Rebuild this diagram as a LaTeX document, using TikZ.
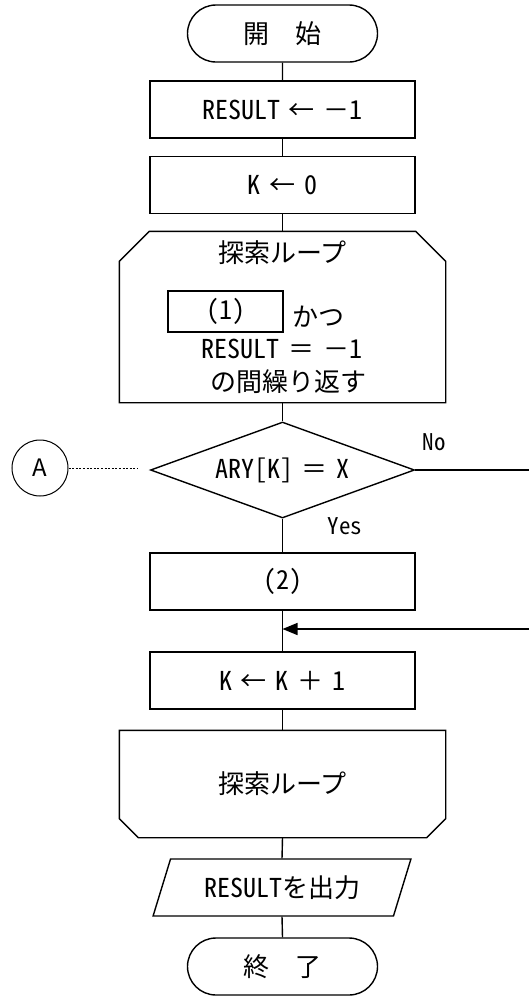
\documentclass[tikz,border=0pt]{standalone}
\usepackage{fontspec}
\setmainfont{Noto Sans CJK JP}
\newfontfamily\hw{Noto Sans CJK JP}[RawFeature=+hwid]
\newcommand\gp{\hspace{9pt}}
\usetikzlibrary{shapes.geometric,shapes.misc,arrows.meta,calc}
\begin{document}
\begin{tikzpicture}[x=1pt,y=-1pt,line width=1.4pt,
  every node/.style={font=\fontsize{26}{30}\selectfont,inner sep=0pt},
  term/.style={draw,rounded rectangle,minimum width=190pt,minimum height=57pt},
  proc/.style={draw,rectangle,minimum width=265pt,minimum height=57pt},
  slot/.style={rectangle,minimum width=325pt},
  lbl/.style={font=\fontsize{23}{27}\selectfont\hw},
  arr/.style={-{Triangle[length=15pt,width=12pt]}},
  dots/.style={line width=1pt,dash pattern=on 2pt off 1.6pt}]
\useasboundingbox (0,0) rectangle (529,996);

% start / init
\node[term] (start) at (282.5,33.5) {開　始};
\node[proc] (init1) at (282.5,109.5) {{\hw RESULT}\gp←\gp－{\hw 1}};
\node[proc] (init2) at (282.5,185) {{\hw K}\gp←\gp{\hw 0}};

% loop start
\node[slot,minimum height=170pt] (ls) at (282.5,317) {};
\draw ($(ls.north west)+(30,0)$) -- ($(ls.north east)+(-30,0)$) -- ($(ls.north east)+(0,30)$)
  -- (ls.south east) -- (ls.south west) -- ($(ls.north west)+(0,30)$) -- cycle;
\node (lstitle) at (282.5,253) {探索ループ};
\node[draw,rectangle,line width=1.3pt,minimum width=115pt,minimum height=41pt] (c1) at (225.5,311.5) {\hw (1)};
\node (katsu) at (318,317) {かつ};
\node (cond) at (282,349) {{\hw RESULT}\gp＝\gp－{\hw 1}};
\node (rep) at (288,382) {の間繰り返す};

% decision
\node[draw,diamond,minimum width=264pt,minimum height=96pt,aspect=2.75] (dia) at (282.5,470) {{\hw ARY[K]}\gp＝\gp{\hw X}};
\node[draw,circle,line width=1pt,minimum size=56pt,font=\fontsize{24}{28}\selectfont] (A) at (40,468) {A};
\coordinate (dotend) at (138,468);
\draw[dots] (A.east) -- (dotend);
\node[lbl] (no) at (434,442) {No};
\node[lbl] (yes) at (345,526) {Yes};
\coordinate (noend) at (529,470);
\draw (dia.east) -- (noend);

% body
\node[proc] (p2) at (282.5,581.5) {\hw (2)};
\node[proc] (inc) at (282.5,680.5) {{\hw K}\gp←\gp{\hw K}\gp＋\gp{\hw 1}};
\coordinate (ret) at (529,629);
\draw[arr] (ret) -- (ret -| p2.south);

% loop end
\node[slot,minimum height=106pt] (le) at (282.5,784) {探索ループ};
\draw (le.north west) -- (le.north east) -- ($(le.south east)+(0,-19)$) -- ($(le.south east)+(-19,0)$)
  -- ($(le.south west)+(19,0)$) -- ($(le.south west)+(0,-19)$) -- cycle;

% output / end
\node[draw,trapezium,trapezium left angle=63,trapezium right angle=117,minimum width=258pt,minimum height=57pt,trapezium stretches=true] (out) at (282,887.5) {{\hw RESULT}を出力};
\node[term] (stop) at (282.5,966.5) {終　了};

% connectors
\draw (start) -- (init1);
\draw (init1) -- (init2);
\draw (init2) -- (ls.north);
\draw (ls.south) -- (dia.north);
\draw (dia.south) -- (p2.north);
\draw (p2) -- (inc);
\draw (inc) -- (le.north);
\draw (le.south) -- (out.north);
\draw (out.south) -- (stop.north);
\end{tikzpicture}
\end{document}
